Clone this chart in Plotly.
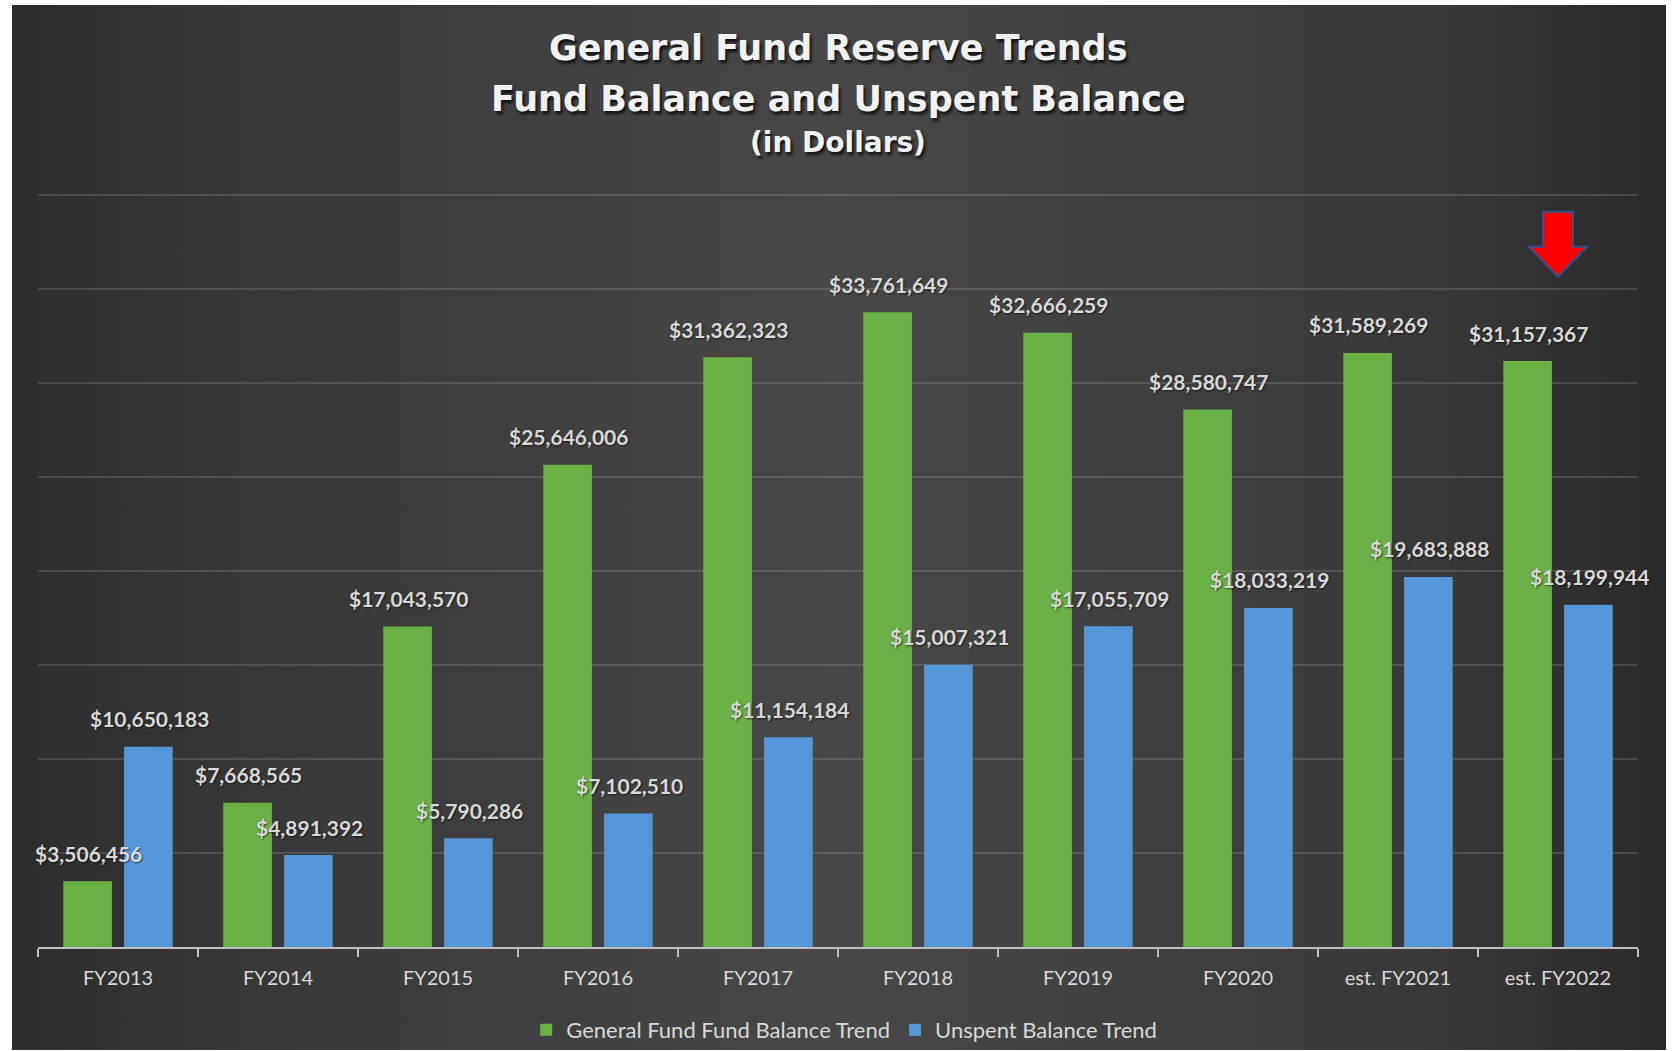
import plotly.graph_objects as go

# --- data -------------------------------------------------------------
categories = ["FY2013", "FY2014", "FY2015", "FY2016", "FY2017",
              "FY2018", "FY2019", "FY2020", "est. FY2021", "est. FY2022"]
fund_balance = [3506456, 7668565, 17043570, 25646006, 31362323,
                33761649, 32666259, 28580747, 31589269, 31157367]
unspent_balance = [10650183, 4891392, 5790286, 7102510, 11154184,
                   15007321, 17055709, 18033219, 19683888, 18199944]
series_names = ["General Fund Fund Balance Trend", "Unspent Balance Trend"]
title_lines = ["General Fund Reserve Trends",
               "Fund Balance and Unspent Balance",
               "(in Dollars)"]

W, H = 1675, 1051
GREEN = "#6bb044"
BLUE = "#5598d9"
LABEL = "#d9d9d9"
FONT = "Lato"

# value axis: 0..40M drawn between pixel rows 948 (base) and 195 (40M line)
Y_TOP = 40_100_000
PX_PER_UNIT = (948 - 195) / 40_000_000
top_px = 948 - Y_TOP * PX_PER_UNIT

fig = go.Figure()

# dark panel, lighter toward the middle (pixel-space helper axes x/y)
fig.add_trace(go.Scatter(
    x=[12, 1666, 1666, 12, 12], y=[5, 5, H, H, 5],
    mode="lines", line=dict(width=0), fill="toself",
    fillgradient=dict(type="horizontal",
                      colorscale=[[0, "#2d2d2d"], [0.15, "#383838"], [0.5, "#484848"],
                                  [0.85, "#393939"], [1, "#2a2a2a"]]),
    hoverinfo="skip", showlegend=False, xaxis="x", yaxis="y",
))

# bars
fig.add_trace(go.Bar(x=categories, y=fund_balance, name=series_names[0],
                     marker=dict(color=GREEN, line=dict(width=0)),
                     xaxis="x2", yaxis="y2"))
fig.add_trace(go.Bar(x=categories, y=unspent_balance, name=series_names[1],
                     marker=dict(color=BLUE, line=dict(width=0)),
                     xaxis="x2", yaxis="y2"))

annotations = []
# value labels above each bar
for cat, g, b in zip(categories, fund_balance, unspent_balance):
    for val, dx in ((g, -30.4), (b, 30.4)):
        annotations.append(dict(
            x=cat, y=val, xref="x2", yref="y2", xshift=dx + 1, yshift=28,
            text=f"${val:,}", showarrow=False, xanchor="center", yanchor="middle",
            font=dict(family=FONT, size=21, color=LABEL, weight="bold",
                      shadow="1px 1px 2px rgba(0,0,0,0.6)"),
        ))

# title block
for txt, yy, sz in zip(title_lines, (48, 99, 143), (35, 35, 28)):
    annotations.append(dict(
        x=838, y=yy, xref="x", yref="y", text=txt, showarrow=False,
        xanchor="center", yanchor="middle",
        font=dict(family="DejaVu Sans", size=sz, color="#f2f2f2", weight="bold",
                  shadow="2px 3px 3px rgba(0,0,0,0.75)"),
    ))

# red pointer over the latest estimate
shapes = [dict(
    type="path", xref="x", yref="y", layer="above",
    path="M1543,212 L1573,212 L1573,247 L1587,247 L1558,277 L1529,247 L1543,247 Z",
    fillcolor="#ff0000", line=dict(color="#2f528f", width=2),
)]

fig.update_layout(
    width=W, height=H,
    margin=dict(l=0, r=0, t=0, b=0),
    paper_bgcolor="white",
    plot_bgcolor="rgba(0,0,0,0)",
    barmode="group", bargap=0.24, bargroupgap=0.2,
    font=dict(family=FONT, color=LABEL),
    xaxis=dict(domain=[0, 1], range=[0, W], visible=False, fixedrange=True),
    yaxis=dict(domain=[0, 1], range=[H, 0], visible=False, fixedrange=True),
    xaxis2=dict(
        domain=[38 / W, 1638 / W], anchor="y2", type="category",
        categoryorder="array", categoryarray=categories,
        range=[-0.5, len(categories) - 0.5], autorange=False,
        showline=True, linecolor="#bfbfbf", linewidth=2,
        ticks="outside", tickson="boundaries", ticklen=8, tickwidth=1.5,
        tickcolor="#bfbfbf", ticklabelstandoff=12,
        tickfont=dict(family=FONT, size=20, color=LABEL),
        showgrid=False, zeroline=False,
    ),
    yaxis2=dict(
        domain=[(H - 948) / H, (H - top_px) / H], anchor="x2",
        range=[0, Y_TOP], autorange=False, tick0=0, dtick=5_000_000,
        showticklabels=False, showgrid=True,
        gridcolor="rgba(255,255,255,0.13)", gridwidth=2,
        zeroline=False, showline=False,
    ),
    legend=dict(
        orientation="h", x=0.504, xanchor="center", y=20 / H, yanchor="middle",
        font=dict(family=FONT, size=22, color=LABEL),
        bgcolor="rgba(0,0,0,0)", itemclick=False,
    ),
    annotations=annotations,
    shapes=shapes,
    showlegend=True,
)

fig.write_html("out.html")
